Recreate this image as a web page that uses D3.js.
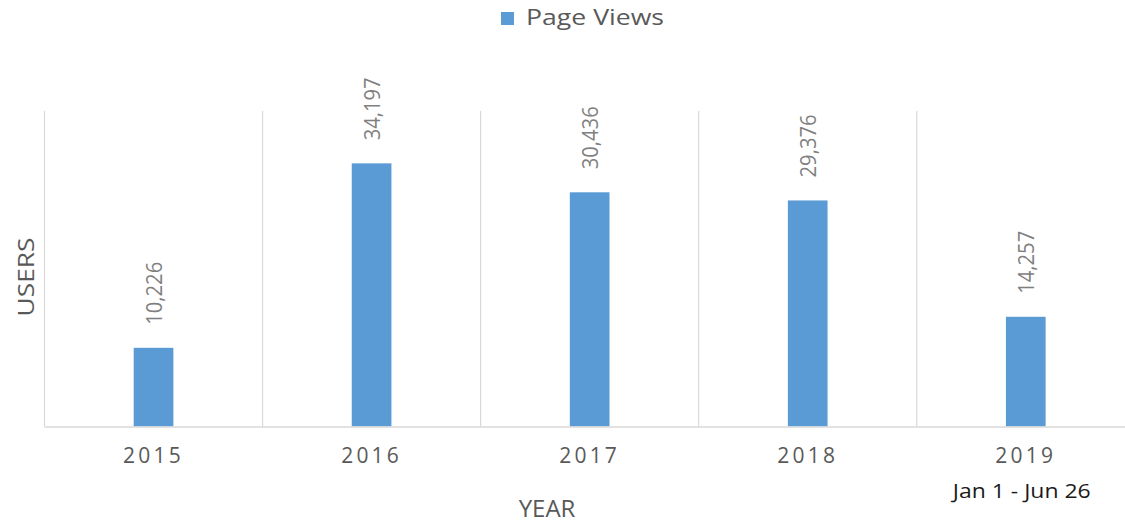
<!DOCTYPE html>
<html>
<head>
<meta charset="utf-8">
<script src="https://cdn.jsdelivr.net/npm/d3@7"></script>
<style>
  html, body { margin: 0; padding: 0; background: #fff; }
  svg { display: block; font-family: "Open Sans", "Noto Sans", sans-serif; }
</style>
</head>
<body>
<svg id="chart" width="1125" height="523"></svg>
<script>
// Yearly page views
const years = ["2015", "2016", "2017", "2018", "2019"];
const pageViews = [10226, 34197, 30436, 29376, 14257];
const subLabels = ["", "", "", "", "Jan 1 - Jun 26"];
const seriesName = "Page Views";
const xTitle = "YEAR";
const yTitle = "USERS";

const svg = d3.select("#chart");

const plot = { left: 44.5, right: 1134.8, top: 111, bottom: 426.5 };

const x = d3.scaleBand()
  .domain(years)
  .range([plot.left, plot.right])
  .paddingInner(0.818)
  .paddingOuter(0.409);

const y = d3.scaleLinear()
  .domain([0, 41000])
  .range([plot.bottom, plot.top]);

const step = x.step();

// vertical category separators
svg.append("g")
  .selectAll("line")
  .data(d3.range(years.length + 1))
  .join("line")
  .attr("x1", i => plot.left + i * step)
  .attr("x2", i => plot.left + i * step)
  .attr("y1", plot.top)
  .attr("y2", plot.bottom)
  .attr("stroke", "#d9d9d9")
  .attr("stroke-width", 1.2);

// bars
const rows = years.map((yr, i) => ({ yr, v: pageViews[i] }));
svg.append("g")
  .selectAll("rect")
  .data(rows)
  .join("rect")
  .attr("x", d => x(d.yr))
  .attr("y", d => y(d.v))
  .attr("width", x.bandwidth())
  .attr("height", d => y(0) - y(d.v))
  .attr("fill", "#5b9bd5");

// value labels, rotated
const fmt = d3.format(",");
svg.append("g")
  .selectAll("text")
  .data(rows)
  .join("text")
  .attr("transform", d => `translate(${x(d.yr) + x.bandwidth() / 2},${y(d.v) - 23}) rotate(-90)`)
  .attr("text-anchor", "start")
  .attr("dominant-baseline", "central")
  .attr("font-size", 21)
  .attr("fill", "#7f7f7f")
  .attr("textLength", 63)
  .attr("lengthAdjust", "spacingAndGlyphs")
  .text(d => fmt(d.v));

// x axis
const xAxis = svg.append("g")
  .attr("transform", `translate(0,${plot.bottom})`)
  .call(d3.axisBottom(x).tickSizeInner(0).tickSizeOuter(0).tickPadding(22));
xAxis.select(".domain")
  .attr("stroke", "#d9d9d9")
  .attr("stroke-width", 1.5)
  .attr("d", `M${plot.left},0.5H${plot.right}`);
xAxis.selectAll(".tick text")
  .attr("font-family", "\"Open Sans\", sans-serif")
  .attr("font-size", 21)
  .attr("letter-spacing", 3.2)
  .attr("fill", "#595959");

// secondary label under the last year
svg.append("g")
  .selectAll("text")
  .data(years.map((yr, i) => ({ yr, s: subLabels[i] })).filter(d => d.s))
  .join("text")
  .attr("x", d => x(d.yr) + x.bandwidth() / 2 - 4)
  .attr("y", 498)
  .attr("text-anchor", "middle")
  .attr("font-size", 20)
  .attr("fill", "#1a1a1a")
  .attr("textLength", 138)
  .attr("lengthAdjust", "spacingAndGlyphs")
  .text(d => d.s);

// axis titles
svg.append("text")
  .attr("x", 547)
  .attr("y", 517)
  .attr("text-anchor", "middle")
  .attr("font-size", 24)
  .attr("fill", "#595959")
  .text(xTitle);

svg.append("text")
  .attr("transform", "translate(34,277) rotate(-90)")
  .attr("text-anchor", "middle")
  .attr("font-size", 21)
  .attr("fill", "#595959")
  .attr("textLength", 79)
  .attr("lengthAdjust", "spacingAndGlyphs")
  .text(yTitle);

// legend
const legend = svg.append("g").attr("transform", "translate(501,12)");
legend.append("rect")
  .attr("width", 13)
  .attr("height", 13)
  .attr("fill", "#5b9bd5");
legend.append("text")
  .attr("x", 25)
  .attr("y", 13)
  .attr("font-size", 21)
  .attr("fill", "#595959")
  .attr("textLength", 138)
  .attr("lengthAdjust", "spacingAndGlyphs")
  .text(seriesName);
</script>
</body>
</html>
